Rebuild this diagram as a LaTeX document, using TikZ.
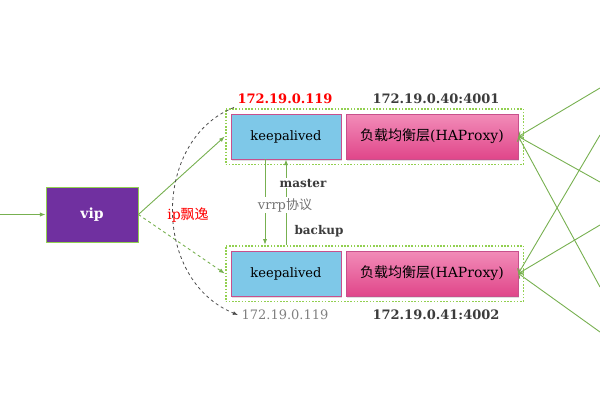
\documentclass[tikz,border=0pt]{standalone}
\usepackage{fontspec}
\setmainfont{DejaVu Serif}
\newfontfamily\cjk{Noto Sans CJK SC}
\usetikzlibrary{arrows.meta,positioning,fit,calc,shadows}
\definecolor{haGreen}  {RGB}{119,176, 80}
\definecolor{haGreenL} {RGB}{146,208, 80}
\definecolor{haPurple} {RGB}{112, 48,160}
\definecolor{haBlue}   {RGB}{126,200,232}
\definecolor{haPink}   {RGB}{242,140,184}
\definecolor{haPinkD}  {RGB}{224, 70,138}
\definecolor{haRose}   {RGB}{200, 80,140}
\definecolor{haRed}    {RGB}{255,  0,  0}
\definecolor{haGrey}   {RGB}{ 60, 60, 60}

\begin{document}
\begin{tikzpicture}[x=1pt,y=-1pt,
  >={Latex[length=2mm]},
  every node/.style={font=\fontsize{13}{15}\selectfont},
  link/.style={haGreen,line width=0.9pt},
  kabox/.style={draw=haRose,fill=haBlue,thick,minimum width=110pt,
                minimum height=45pt,
                drop shadow={shadow xshift=1pt,shadow yshift=-1.5pt,opacity=0.25}},
  hpbox/.style={kabox,top color=haPink,bottom color=haPinkD,minimum width=172pt,
                font=\fontsize{14}{16}\selectfont},
  grp/.style={draw=haGreenL,dash pattern=on 1.6pt off 1.6pt,line width=1.8pt,
              inner sep=5pt},
  iplab/.style={font=\bfseries\fontsize{13}{15}\selectfont,text=haGrey},
  tag/.style={font=\bfseries\fontsize{12}{14}\selectfont,text=haGrey,
              fill=white,inner sep=1pt}
]
\useasboundingbox (0,0) rectangle (600,400);

% vip and the two keepalived/haproxy groups
\node[fill=haPurple,draw=haGreenL,thick,minimum width=92pt,minimum height=55pt,
      text=white,font=\bfseries\fontsize{14}{16}\selectfont] (vip) at (92,214.5) {vip};
\node[kabox] (ka1) at (286,136.5) {keepalived};
\node[hpbox] (hp1) at (432,136.5) {{\cjk 负载均衡层}(HAProxy)};
\node[grp,fit=(ka1)(hp1)] (grp1) {};
\node[kabox] (ka2) at (286,273.5) {keepalived};
\node[hpbox] (hp2) at (432,273.5) {{\cjk 负载均衡层}(HAProxy)};
\node[grp,fit=(ka2)(hp2)] (grp2) {};

% addresses
\node[iplab,text=haRed] (ip1) at (285,99) {172.19.0.119};
\node[iplab] (port1) at (436,99) {172.19.0.40:4001};
\node[font=\fontsize{13}{15}\selectfont,text=gray] (ip2) at (285,315) {172.19.0.119};
\node[iplab] (port2) at (436,315) {172.19.0.41:4002};

% incoming traffic
\coordinate (in) at (0,214.5);
\draw[link,->] (in) -- (vip);
\draw[link,->] (vip.east) -- (grp1.west);
\draw[link,dashed,->] (vip.east) -- (grp2.west);

% vip drifting
\draw[dashed,gray!60!black,thick,-{Latex[length=1.8mm]}]
  (ip1.south west) .. controls (152,140) and (152,280) .. (ip2.west);
\node[text=haRed,font=\fontsize{14}{16}\selectfont] (drift) at (188,215) {ip{\cjk 飘逸}};

% vrrp between the keepalived pair
\draw[link,->] ([xshift=-21pt]ka1.south) -- ([xshift=-21pt]ka2.north |- grp2.north);
\draw[link,->] (ka2.north |- grp2.north) -- (ka1.south);
\node[tag] (mst) at (303,183) {master};
\node[fill=white,inner sep=1pt,text=gray!90!black] (vrrp) at (285,205) {vrrp{\cjk 协议}};
\node[tag] (bak) at (319,231) {backup};

% backends
\foreach \n/\y in {1/88,2/182,3/287} {
  \coordinate (r\n) at (600,\y);
  \draw[link,{Straight Barb[length=1.2mm]}-] (hp1.east) -- (r\n);
}
\foreach \n/\y in {4/135,5/225,6/332} {
  \coordinate (r\n) at (600,\y);
  \draw[link,{Straight Barb[length=1.2mm]}-] (hp2.east) -- (r\n);
}
\end{tikzpicture}
\end{document}
